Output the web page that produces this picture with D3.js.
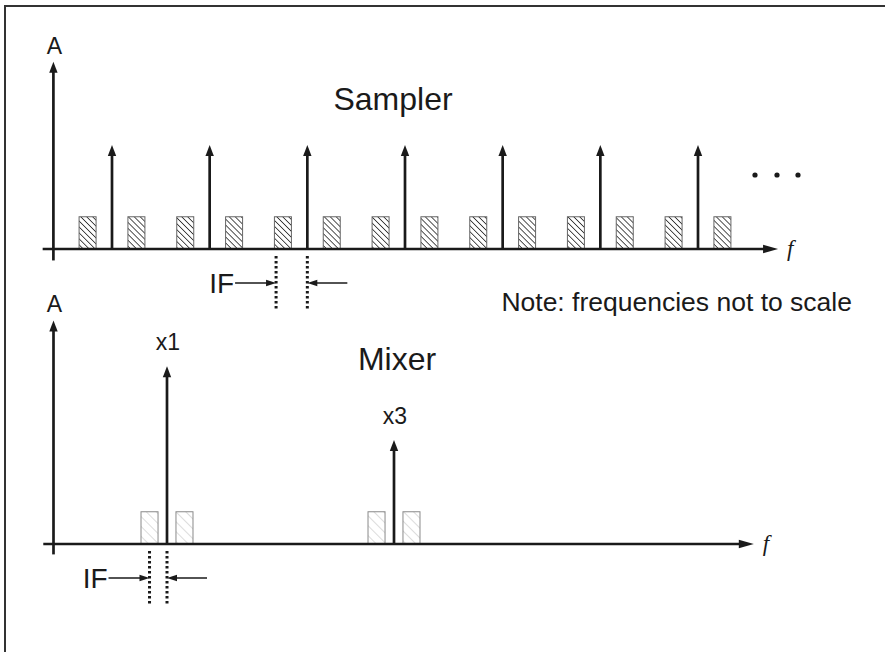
<!DOCTYPE html>
<html><head><meta charset="utf-8">
<script src="https://cdn.jsdelivr.net/npm/d3@7"></script>
<style>html,body{margin:0;padding:0;background:#fff;}svg{display:block;}</style>
</head><body>
<script>
// ---------- data ----------
// Sampler (top): LO harmonics (impulses) and IF images (hatched bars)
const samplerHarmonics = [1, 2, 3, 4, 5, 6, 7];
const samplerHarmonicAmp = [1, 1, 1, 1, 1, 1, 1];
const samplerBarCenters = [0.75, 1.25, 1.75, 2.25, 2.75, 3.25, 3.75, 4.25, 4.75, 5.25, 5.75, 6.25, 6.75, 7.25];
const samplerBarAmp = 0.31;
const samplerBarWidth = 0.174;
const samplerIFMarkers = [2.68, 3.0];
// Mixer (bottom)
const mixerHarmonics = [1, 3];
const mixerHarmonicAmp = [1.71, 1.0];
const mixerHarmonicLabels = ["x1", "x3"];
const mixerBarCenters = [0.846, 1.154, 2.846, 3.154];
const mixerBarAmp = 0.31;
const mixerBarWidth = 0.15;
const mixerIFMarkers = [0.846, 1.0];

const W = 885, H = 652;
const svg = d3.select("body").append("svg").attr("width", W).attr("height", H);
const ink = "#1a1a1a";
const sans = "Liberation Sans, Arial, sans-serif";
const LW = 2.7;

svg.append("rect").attr("x", 5).attr("y", 6).attr("width", W + 10).attr("height", H + 10)
  .attr("fill", "none").attr("stroke", "#333").attr("stroke-width", 2);

const defs = svg.append("defs");
const p1 = defs.append("pattern").attr("id", "hatchDark").attr("patternUnits", "userSpaceOnUse")
  .attr("width", 4.2).attr("height", 4.2).attr("patternTransform", "rotate(-45)");
p1.append("line").attr("x1", 0).attr("y1", 0).attr("x2", 0).attr("y2", 4.2)
  .attr("stroke", "#1a1a1a").attr("stroke-width", 1.5);
const p2 = defs.append("pattern").attr("id", "hatchLight").attr("patternUnits", "userSpaceOnUse")
  .attr("width", 7).attr("height", 7).attr("patternTransform", "rotate(-45)");
p2.append("line").attr("x1", 0).attr("y1", 0).attr("x2", 0).attr("y2", 7)
  .attr("stroke", "#c4c4c4").attr("stroke-width", 1.2);

function arrowUp(g, x, y) {
  g.append("path").attr("d", `M${x},${y} L${x - 4.2},${y + 11} L${x + 4.2},${y + 11} Z`).attr("fill", ink);
}
function arrowRight(g, x, y, len = 12, hw = 4) {
  g.append("path").attr("d", `M${x},${y} L${x - len},${y - hw} L${x - len},${y + hw} Z`).attr("fill", ink);
}
function arrowH(g, x, y, dir) {
  g.append("path").attr("d", `M${x},${y} L${x - dir * 10},${y - 3.2} L${x - dir * 10},${y + 3.2} Z`).attr("fill", ink);
}

function panel(cfg) {
  const g = svg.append("g");
  const x = cfg.x, y = cfg.y;
  g.selectAll("rect.bar").data(cfg.barCenters).join("rect").attr("class", "bar")
    .attr("x", d => x(d - cfg.barWidth / 2)).attr("width", d => x(d + cfg.barWidth / 2) - x(d - cfg.barWidth / 2))
    .attr("y", y(cfg.barAmp)).attr("height", y(0) - y(cfg.barAmp))
    .attr("fill", `url(#${cfg.hatch})`).attr("stroke", cfg.barStroke).attr("stroke-width", 1);
  g.append("line").attr("x1", x(cfg.xAxisStart)).attr("x2", x(cfg.xAxisEnd) - 10)
    .attr("y1", y(0)).attr("y2", y(0)).attr("stroke", ink).attr("stroke-width", LW);
  arrowRight(g, x(cfg.xAxisEnd), y(0), 15, 4.2);
  g.append("line").attr("x1", x(cfg.yAxisAt)).attr("x2", x(cfg.yAxisAt))
    .attr("y1", y(cfg.yAxisBottom)).attr("y2", y(cfg.yAxisTop) + 8).attr("stroke", ink).attr("stroke-width", LW);
  arrowUp(g, x(cfg.yAxisAt), y(cfg.yAxisTop));
  g.append("text").attr("x", x(cfg.yAxisAt) + 1).attr("y", y(cfg.yAxisTop) - 8)
    .attr("text-anchor", "middle").attr("font-family", sans)
    .attr("font-size", 23).attr("fill", ink).text("A");
  cfg.harmonics.forEach((h, i) => {
    g.append("line").attr("x1", x(h)).attr("x2", x(h)).attr("y1", y(0)).attr("y2", y(cfg.amps[i]) + 8)
      .attr("stroke", ink).attr("stroke-width", LW);
    arrowUp(g, x(h), y(cfg.amps[i]));
    if (cfg.labels) {
      g.append("text").attr("x", x(h) + 1).attr("y", y(cfg.amps[i]) - 16)
        .attr("text-anchor", "middle").attr("font-family", sans)
        .attr("font-size", 23).attr("fill", ink).text(cfg.labels[i]);
    }
  });
  g.append("text").attr("x", x(cfg.xAxisEnd) + 9).attr("y", y(0) + 7)
    .attr("font-family", "Liberation Serif, Times New Roman, serif").attr("font-style", "italic")
    .attr("font-size", 23).attr("fill", ink).text("f");
  const [a, b] = cfg.ifMarkers;
  [a, b].forEach(m => {
    g.append("line").attr("x1", x(m)).attr("x2", x(m)).attr("y1", y(0) + 7).attr("y2", y(0) + 60)
      .attr("stroke", ink).attr("stroke-width", 3).attr("stroke-dasharray", "2.4,2.6");
  });
  const ay = y(0) + 34;
  g.append("line").attr("x1", x(a) - 41).attr("x2", x(a) - 6).attr("y1", ay).attr("y2", ay)
    .attr("stroke", ink).attr("stroke-width", 1.4);
  arrowH(g, x(a), ay, 1);
  g.append("line").attr("x1", x(b) + 40).attr("x2", x(b) + 6).attr("y1", ay).attr("y2", ay)
    .attr("stroke", ink).attr("stroke-width", 1.4);
  arrowH(g, x(b), ay, -1);
  g.append("text").attr("x", x(a) - 42).attr("y", ay + 10).attr("text-anchor", "end")
    .attr("font-family", sans).attr("font-size", 28).attr("fill", ink).text("IF");
  return g;
}

const xTop = d3.scaleLinear().domain([1, 7]).range([112, 698]);
const yTop = d3.scaleLinear().domain([0, 1]).range([249, 145]);
panel({
  x: xTop, y: yTop, barCenters: samplerBarCenters, barWidth: samplerBarWidth, barAmp: samplerBarAmp,
  hatch: "hatchDark", barStroke: "#666", harmonics: samplerHarmonics, amps: samplerHarmonicAmp,
  xAxisStart: 0.29, xAxisEnd: 7.82, yAxisAt: 0.4, yAxisTop: 1.80, yAxisBottom: -0.11,
  ifMarkers: samplerIFMarkers
});
[755, 777, 798].forEach(cx => svg.append("circle").attr("cx", cx).attr("cy", 175).attr("r", 2.6).attr("fill", ink));

const xBot = d3.scaleLinear().domain([0, 3]).range([53.5, 394]);
const yBot = d3.scaleLinear().domain([0, 1]).range([544, 440]);
panel({
  x: xBot, y: yBot, barCenters: mixerBarCenters, barWidth: mixerBarWidth, barAmp: mixerBarAmp,
  hatch: "hatchLight", barStroke: "#8a8a8a", harmonics: mixerHarmonics, amps: mixerHarmonicAmp,
  labels: mixerHarmonicLabels,
  xAxisStart: -0.09, xAxisEnd: 6.17, yAxisAt: 0, yAxisTop: 2.15, yAxisBottom: -0.1,
  ifMarkers: mixerIFMarkers
});

svg.append("text").attr("x", 393).attr("y", 110).attr("text-anchor", "middle").attr("font-family", sans)
  .attr("font-size", 32).attr("fill", ink).text("Sampler");
svg.append("text").attr("x", 397).attr("y", 370).attr("text-anchor", "middle").attr("font-family", sans)
  .attr("font-size", 32).attr("fill", ink).text("Mixer");
svg.append("text").attr("x", 852).attr("y", 311).attr("text-anchor", "end").attr("font-family", sans)
  .attr("font-size", 26.5).attr("fill", ink).text("Note: frequencies not to scale");
</script>
</body></html>
